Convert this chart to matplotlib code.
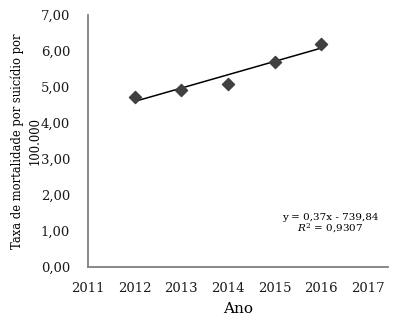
import numpy as np
import matplotlib
matplotlib.use("Agg")
import matplotlib.pyplot as plt

plt.rcParams['font.family'] = ['DejaVu Serif']
plt.rcParams['mathtext.fontset'] = 'dejavuserif'

anos = [2012, 2013, 2014, 2015, 2016]
taxas = [4.72, 4.92, 5.08, 5.70, 6.18]
inclinacao = 0.37
intercepto = -739.84
r2_texto = "0,9307"
x_ticks = [2011, 2012, 2013, 2014, 2015, 2016, 2017]
y_ticks = [0, 1, 2, 3, 4, 5, 6, 7]

fig = plt.figure(figsize=(4.04, 3.25), dpi=100)
ax = fig.add_axes([0.218, 0.178, 0.742, 0.776])

ax.scatter(anos, taxas, marker='D', s=38, color='#404040', zorder=3)
xt = np.array([anos[0], anos[-1]])
ax.plot(xt, inclinacao * xt + intercepto, color='black', lw=1.1, zorder=2)

ax.set_xlim(2011, 2017.43)
ax.set_ylim(0, 7)
ax.set_xticks(x_ticks)
ax.set_yticks(y_ticks)
ax.set_yticklabels([f"{v:.2f}".replace('.', ',') for v in y_ticks])
ax.tick_params(length=0, labelsize=9.5, colors='#1a1a1a')
ax.tick_params(axis='y', pad=13)
ax.tick_params(axis='x', pad=11)

for s in ['top', 'right']:
    ax.spines[s].set_visible(False)
for s in ['left', 'bottom']:
    ax.spines[s].set_color('#7f7f7f')
    ax.spines[s].set_linewidth(1.3)

ax.set_xlabel("Ano", fontsize=11, labelpad=5)
ax.set_ylabel("Taxa de mortalidade por suicídio por\n100.000", fontsize=8.3, labelpad=-1,
              linespacing=1.5)

ax.text(2016.2, 1.37, "y = 0,37x - 739,84", fontsize=7.5, ha='center', va='center')
ax.text(2016.2, 1.07, r"$R^2$ = " + r2_texto, fontsize=7.5, ha='center', va='center')

fig.savefig("out.png", dpi=100)
